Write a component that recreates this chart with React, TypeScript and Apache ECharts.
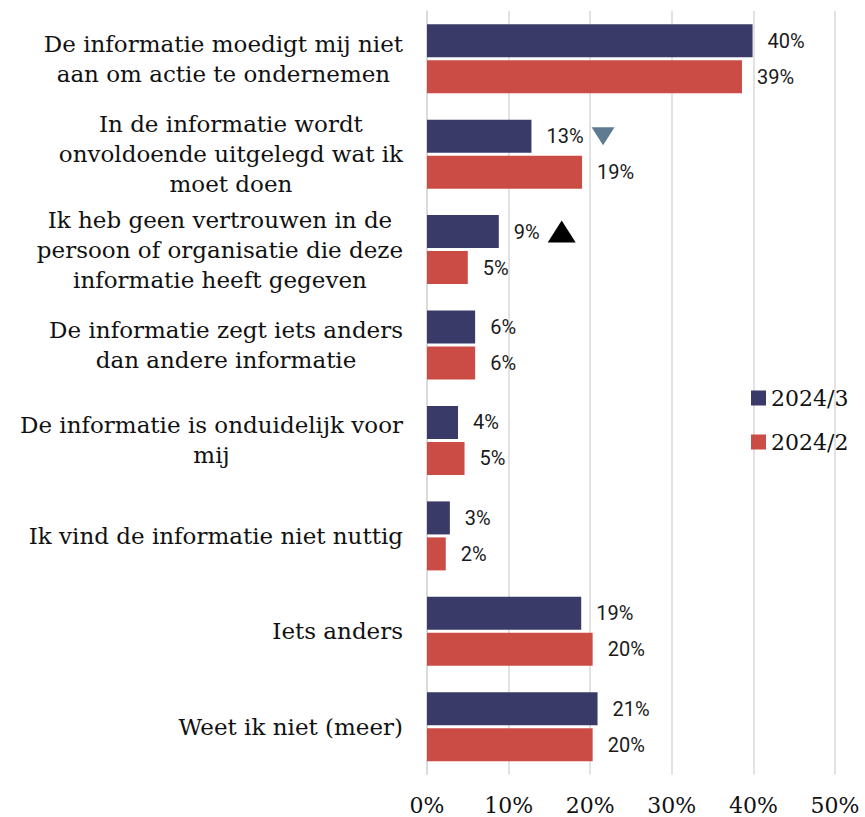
import React, { useEffect, useRef } from "react";
import * as echarts from "echarts";

const categories = [
  "De informatie moedigt mij niet\naan om actie te ondernemen",
  "In de informatie wordt\nonvoldoende uitgelegd wat ik\nmoet doen",
  "Ik heb geen vertrouwen in de\npersoon of organisatie die deze\ninformatie heeft gegeven",
  "De informatie zegt iets anders\ndan andere informatie",
  "De informatie is onduidelijk voor\nmij",
  "Ik vind de informatie niet nuttig",
  "Iets anders",
  "Weet ik niet (meer)",
];
const seriesNames = ["2024/3", "2024/2"];
const values2024_3 = [39.9, 12.8, 8.8, 5.9, 3.8, 2.8, 18.9, 20.9];
const values2024_2 = [38.6, 19.0, 5.0, 5.9, 4.6, 2.3, 20.3, 20.3];
// significance markers on the 2024/3 bars
const changeMarks = ["", "down", "up", "", "", "", "", ""];
const xTicks = [0, 10, 20, 30, 40, 50];

const NAVY = "#393a68";
const RED = "#cb4c45";
const LABEL_FONT = "Roboto";
const LABEL_SIZE = 20;
const LABEL_DIST = 15;

function measure(text: string, font: string): number {
  const c = document.createElement("canvas");
  const ctx = c.getContext("2d");
  if (!ctx) return text.length * 10;
  ctx.font = font;
  return ctx.measureText(text).width;
}

export default function App() {
  const ref = useRef<HTMLDivElement>(null);
  useEffect(() => {
    document.body.style.margin = "0";
    if (!ref.current) return;
    const chart = echarts.init(ref.current, undefined, { renderer: "svg" });
    const fmt = (v: number) => Math.round(v) + "%";

    const markerData = changeMarks.map((m, i) => {
      if (!m) return "-";
      const labelW = measure(fmt(values2024_3[i]), `${LABEL_SIZE}px ${LABEL_FONT}`);
      const size = m === "up" ? [28, 22] : [23, 18];
      return {
        value: values2024_3[i],
        symbol: "triangle",
        symbolSize: size,
        symbolRotate: m === "down" ? 180 : 0,
        symbolOffset: [LABEL_DIST + labelW + 8 + size[0] / 2, -18],
        itemStyle: { color: m === "down" ? "#5f7b91" : "#000000", opacity: 1 },
      };
    });

    const barLabel = {
      show: true,
      position: "right",
      distance: LABEL_DIST,
      fontFamily: LABEL_FONT,
      fontSize: LABEL_SIZE,
      color: "#1a1a1a",
      formatter: (p: any) => fmt(p.value),
    };

    chart.setOption({
      animation: false,
      backgroundColor: "#ffffff",
      grid: { left: 427, right: 30, top: 11, bottom: 42.5, containLabel: false },
      legend: {
        data: seriesNames,
        orient: "vertical",
        left: 746,
        top: 381,
        itemWidth: 15,
        itemHeight: 15,
        itemGap: 20,
        icon: "rect",
        textStyle: { fontFamily: "DejaVu Serif", fontSize: 22, color: "#111", lineHeight: 24 },
      },
      xAxis: {
        type: "value",
        min: xTicks[0],
        max: xTicks[xTicks.length - 1],
        interval: 10,
        axisLine: { show: false },
        axisTick: { show: false },
        splitLine: { show: true, lineStyle: { color: "#d9d9d9", width: 1.5 } },
        axisLabel: {
          margin: 20,
          fontFamily: "DejaVu Serif",
          fontSize: 22,
          color: "#111",
          formatter: (v: number) => v + "%",
        },
      },
      yAxis: {
        type: "category",
        inverse: true,
        data: categories,
        axisLine: { show: true, lineStyle: { color: "#d9d9d9", width: 1.5 } },
        axisTick: { show: false },
        axisLabel: {
          margin: 24,
          align: "right",
          formatter: (v: string) => v.split("\n").map((l) => `{c|${l}}`).join("\n"),
          rich: {
            c: {
              align: "center",
              fontFamily: "DejaVu Serif",
              fontSize: 23,
              lineHeight: 30,
              color: "#111",
            },
          },
        },
      },
      series: [
        {
          name: seriesNames[0],
          type: "bar",
          data: values2024_3,
          barGap: "9%",
          barCategoryGap: "27.7%",
          itemStyle: { color: NAVY },
          label: barLabel,
        },
        {
          name: seriesNames[1],
          type: "bar",
          data: values2024_2,
          itemStyle: { color: RED },
          label: barLabel,
        },
        {
          name: "markers",
          type: "scatter",
          data: markerData,
          silent: true,
          z: 5,
        },
      ],
    });
    return () => chart.dispose();
  }, []);
  return <div ref={ref} style={{ width: 865, height: 817 }} />;
}
